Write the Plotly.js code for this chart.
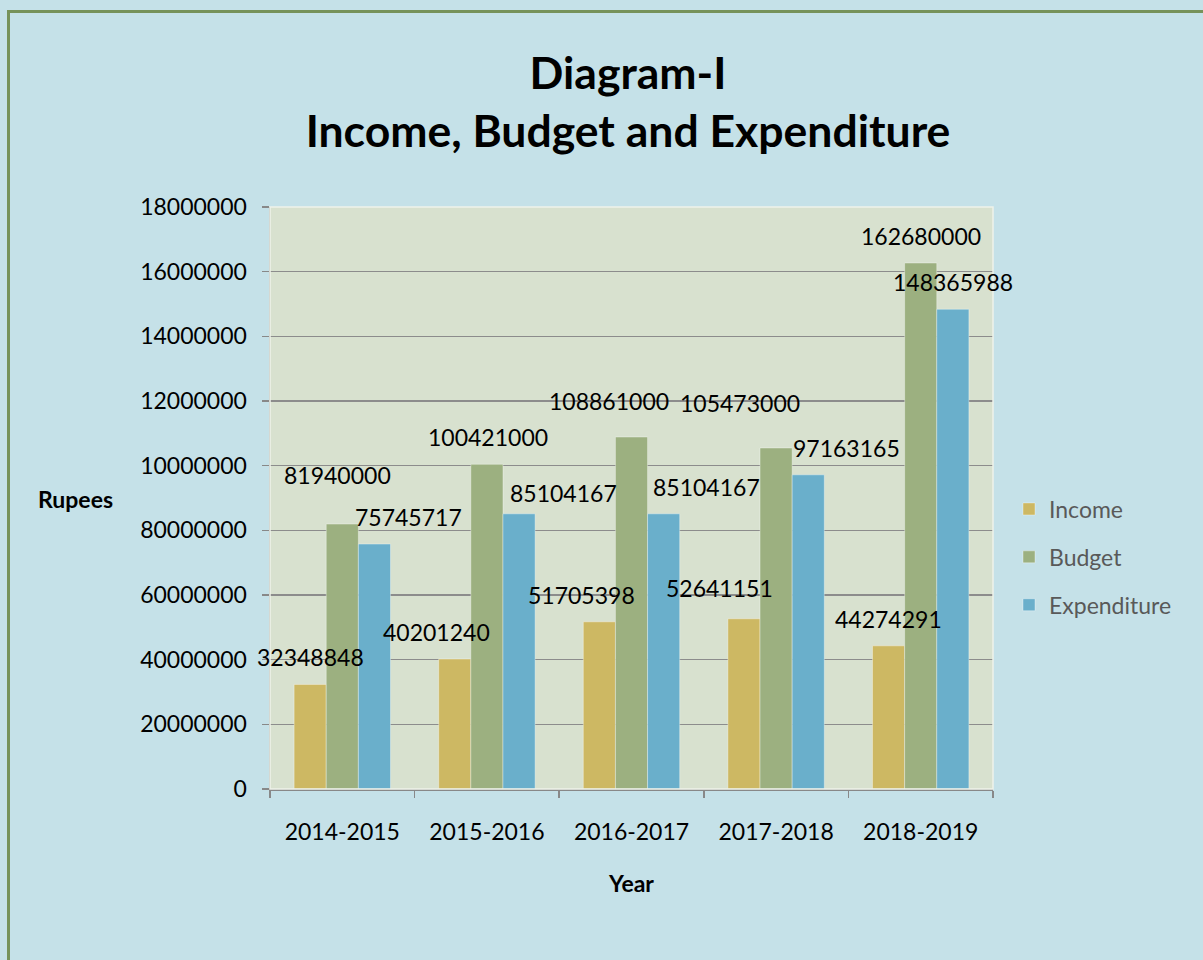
<!DOCTYPE html>
<html>
<head>
<meta charset="utf-8">
<script src="https://cdn.plot.ly/plotly-3.0.1.min.js"></script>
<style>
  html, body { margin: 0; padding: 0; background: #C5E1E8; overflow: hidden; }
  #chart { position: absolute; left: 0; top: 0; width: 1203px; height: 960px; }
  #frame { position: absolute; left: 7px; top: 10px; width: 1300px; height: 1000px;
           border-left: 3px solid #76925A; border-top: 3px solid #76925A;
           pointer-events: none; z-index: 10; }
</style>
</head>
<body>
<div id="chart"></div>
<div id="frame"></div>
<script>
// ---- data ----
const years = ["2014-2015", "2015-2016", "2016-2017", "2017-2018", "2018-2019"];
const income = [32348848, 40201240, 51705398, 52641151, 44274291];
const budget = [81940000, 100421000, 108861000, 105473000, 162680000];
const expenditure = [75745717, 85104167, 85104167, 97163165, 148365988];
const seriesNames = ["Income", "Budget", "Expenditure"];
const yTickVals = [0, 20000000, 40000000, 60000000, 80000000, 100000000, 120000000, 140000000, 160000000, 180000000];
const yTickText = ["0", "20000000", "40000000", "60000000", "80000000", "10000000", "12000000", "14000000", "16000000", "18000000"];

// ---- styles ----
const colors = ["#CDB863", "#9CB080", "#6AAFCB"];
const FONT = "Lato, 'Open Sans', sans-serif";
const bargap = 1/3;
// manual label nudges (pixels) as in the original chart: [dx, dy] per series per category
const labelNudge = [
  [[0, 0], [-18, 0], [-18, 0], [-24, 4], [0, 0]],
  [[-5, 22], [1, 0], [-23, 9], [-36, 18], [0, 0]],
  [[34, 0], [44, -6], [43, 0], [38, 0], [0, 0]]
];

const allSeries = [income, budget, expenditure];
const traces = allSeries.map((vals, i) => ({
  type: "bar",
  name: seriesNames[i],
  x: years,
  y: vals,
  legendgroup: "g" + i,
  marker: { color: colors[i], line: { color: "rgba(255,255,255,0.35)", width: 1 } },
  hoverinfo: "x+y+name"
}));

// plot area geometry (pixels) used for placing free text in paper coords
const PL = 270, PR = 993, PT = 207, PB = 789;
const pxToPaperX = px => (px - PL) / (PR - PL);
const pxToPaperY = py => (PB - py) / (PB - PT);

const barW = (1 - bargap) / 3;
const annotations = [];
allSeries.forEach((vals, i) => {
  vals.forEach((v, j) => {
    annotations.push({
      x: j + (i - 1) * barW, y: v, xref: "x", yref: "y",
      text: String(v), showarrow: false,
      xanchor: "center", yanchor: "middle",
      xshift: labelNudge[i][j][0], yshift: 27 + labelNudge[i][j][1],
      font: { family: FONT, size: 23, color: "#000000" }
    });
  });
});
annotations.push({
  text: "<b>Rupees</b>", xref: "paper", yref: "paper",
  x: pxToPaperX(75), y: pxToPaperY(499), xanchor: "center", yanchor: "middle",
  showarrow: false, font: { family: FONT, size: 23, color: "#000000" }
});

const layout = {
  width: 1203, height: 960,
  paper_bgcolor: "rgba(0,0,0,0)",
  plot_bgcolor: "#D8E1CF",
  margin: { l: PL, r: 1203 - PR, t: PT, b: 960 - PB, autoexpand: false },
  bargap: bargap, bargroupgap: 0, barmode: "group",
  title: {
    text: "<b>Diagram-I<br>Income, Budget and Expenditure</b>",
    x: 628 / 1203, xanchor: "center", xref: "container",
    y: 1 - 89 / 960, yanchor: "middle", yref: "container",
    font: { family: FONT, size: 44.5, color: "#000000" }
  },
  xaxis: {
    type: "category",
    range: [-0.5, years.length - 0.5], autorange: false,
    showline: true, linecolor: "#888888", linewidth: 1.5,
    ticks: "outside", tickson: "boundaries", ticklen: 7, tickcolor: "#888888", tickwidth: 1.5,
    ticklabelstandoff: 22,
    tickfont: { family: FONT, size: 23, color: "#000000" },
    title: { text: "<b>Year</b>", standoff: 32, font: { family: FONT, size: 23, color: "#000000" } },
    showgrid: false
  },
  yaxis: {
    range: [0, 180000000], autorange: false,
    tickvals: yTickVals, ticktext: yTickText,
    showline: true, linecolor: "#888888", linewidth: 1.5,
    ticks: "outside", ticklen: 7, tickcolor: "#888888", tickwidth: 1.5,
    ticklabelstandoff: 10,
    tickfont: { family: FONT, size: 23, color: "#000000" },
    showgrid: true, gridcolor: "#8C8C8C", gridwidth: 1.5,
    zeroline: false
  },
  legend: {
    xref: "container", yref: "container",
    x: 1009 / 1203, xanchor: "left",
    y: 1 - 557 / 960, yanchor: "middle",
    bgcolor: "rgba(0,0,0,0)",
    traceorder: "grouped", tracegroupgap: 15,
    font: { family: FONT, size: 23, color: "#595959" }
  },
  shapes: [{
    type: "rect", xref: "x domain", yref: "y domain", x0: 0, x1: 1, y0: 0, y1: 1,
    line: { color: "#EEF2EA", width: 1.5 }, layer: "above"
  }],
  annotations: annotations,
  showlegend: true
};

Plotly.newPlot("chart", traces, layout, { displayModeBar: false, staticPlot: true });
</script>
</body>
</html>
